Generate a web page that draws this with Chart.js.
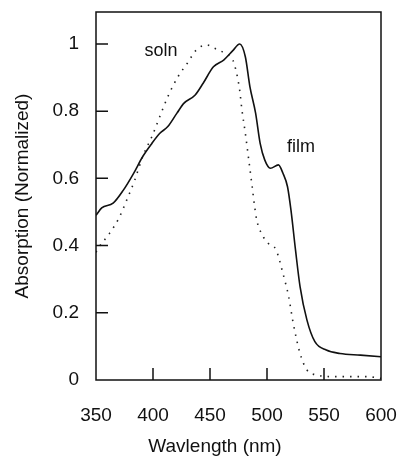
<!DOCTYPE html>
<html lang="en">
<head>
    <meta charset="UTF-8">
    <title>Absorption spectra</title>
    <script src="https://cdn.jsdelivr.net/npm/chart.js"></script>
    <style>
        html, body {
            margin: 0;
            padding: 0;
            background: #fff;
        }
        .chart-box {
            width: 400px;
            height: 458px;
        }
    </style>
</head>
<body>
<div class="chart-box">
    <canvas id="spectraChart"></canvas>
</div>
<script>
    // film (solid line)
    const filmNm  = [350, 355, 365, 374, 383, 391, 399, 406, 413, 421, 427, 437, 444, 453, 462, 470, 476, 481, 485, 490, 494, 498, 503, 510, 514, 518, 521, 525, 529, 535, 542, 552, 564, 582, 600];
    const filmAbs = [0.49, 0.512, 0.526, 0.565, 0.615, 0.665, 0.704, 0.734, 0.754, 0.794, 0.823, 0.848, 0.883, 0.932, 0.952, 0.98, 1.0, 0.962, 0.873, 0.794, 0.704, 0.655, 0.63, 0.64, 0.615, 0.575, 0.506, 0.387, 0.278, 0.179, 0.114, 0.089, 0.079, 0.074, 0.069];

    // soln (dotted line)
    const solnNm  = [350, 352, 362, 370, 377, 384, 391, 399, 406, 413, 422, 430, 438, 447, 454, 463, 470, 473, 476, 478, 481, 484, 487, 489, 491, 495, 501, 508, 514, 519, 523, 529, 535, 544, 558, 587, 600];
    const solnAbs = [0.38, 0.392, 0.437, 0.481, 0.536, 0.595, 0.665, 0.724, 0.784, 0.843, 0.903, 0.942, 0.982, 0.997, 0.987, 0.972, 0.952, 0.918, 0.863, 0.804, 0.734, 0.655, 0.575, 0.52, 0.476, 0.437, 0.407, 0.387, 0.317, 0.248, 0.169, 0.079, 0.03, 0.015, 0.01, 0.01, 0.005];

    const xTicks = [350, 400, 450, 500, 550, 600];
    const yTicks = [0, 0.2, 0.4, 0.6, 0.8, 1];

    const FONT = '"Liberation Sans", Arial, Helvetica, sans-serif';

    function toPoints(xs, ys) {
        return xs.map((x, i) => ({ x: x, y: ys[i] }));
    }

    // box, inward ticks and the text labels
    const framePlugin = {
        id: 'frame',
        afterDraw(chart) {
            const { ctx, chartArea: a, scales } = chart;
            ctx.save();
            ctx.strokeStyle = '#111';
            ctx.lineWidth = 1.5;
            ctx.strokeRect(a.left, a.top, a.right - a.left, a.bottom - a.top);

            ctx.beginPath();
            yTicks.forEach(v => {
                if (v === 0) return;
                const y = scales.y.getPixelForValue(v);
                ctx.moveTo(a.left, y);
                ctx.lineTo(a.left + 12, y);
            });
            xTicks.forEach(v => {
                if (v === 350 || v === 600) return;
                const x = scales.x.getPixelForValue(v);
                ctx.moveTo(x, a.bottom);
                ctx.lineTo(x, a.bottom - 12);
            });
            ctx.stroke();

            ctx.fillStyle = '#111';
            ctx.font = '18px ' + FONT;
            ctx.textAlign = 'center';
            ctx.textBaseline = 'middle';
            ctx.fillText('soln', 161, 51);
            ctx.fillText('film', 301, 147);

            ctx.font = '19px ' + FONT;
            ctx.fillText('Wavlength (nm)', 215, 447);
            ctx.restore();
        }
    };

    new Chart(document.getElementById('spectraChart'), {
        type: 'line',
        data: {
            datasets: [{
                label: 'film',
                data: toPoints(filmNm, filmAbs),
                borderColor: '#111',
                borderWidth: 1.6,
                pointRadius: 0,
                cubicInterpolationMode: 'monotone',
                fill: false
            }, {
                label: 'soln',
                data: toPoints(solnNm, solnAbs),
                borderColor: '#222',
                borderWidth: 1.6,
                borderDash: [1.5, 6],
                pointRadius: 0,
                cubicInterpolationMode: 'monotone',
                fill: false
            }]
        },
        options: {
            responsive: true,
            maintainAspectRatio: false,
            animation: false,
            layout: {
                padding: { left: 0, right: 19, top: 12, bottom: 0 }
            },
            plugins: {
                legend: { display: false },
                tooltip: { enabled: false }
            },
            scales: {
                x: {
                    type: 'linear',
                    min: 350,
                    max: 600,
                    afterFit(scale) {
                        scale.height = 78;
                        scale.paddingLeft = 0;
                        scale.paddingRight = 0;
                    },
                    afterBuildTicks(scale) { scale.ticks = xTicks.map(v => ({ value: v })); },
                    grid: { display: false },
                    border: { display: false },
                    ticks: {
                        color: '#111',
                        padding: 16,
                        maxRotation: 0,
                        font: { family: FONT, size: 19 }
                    }
                },
                y: {
                    min: 0,
                    max: 1.095,
                    afterFit(scale) {
                        scale.width = 96;
                        scale.paddingTop = 0;
                        scale.paddingBottom = 0;
                    },
                    afterBuildTicks(scale) { scale.ticks = yTicks.map(v => ({ value: v })); },
                    grid: { display: false },
                    border: { display: false },
                    ticks: {
                        color: '#111',
                        padding: 9,
                        font: { family: FONT, size: 19 },
                        callback: v => String(v)
                    },
                    title: {
                        display: true,
                        text: 'Absorption (Normalized)',
                        color: '#111',
                        padding: { top: 11, bottom: 0 },
                        font: { family: FONT, size: 19 }
                    }
                }
            }
        },
        plugins: [framePlugin]
    });
</script>
</body>
</html>
